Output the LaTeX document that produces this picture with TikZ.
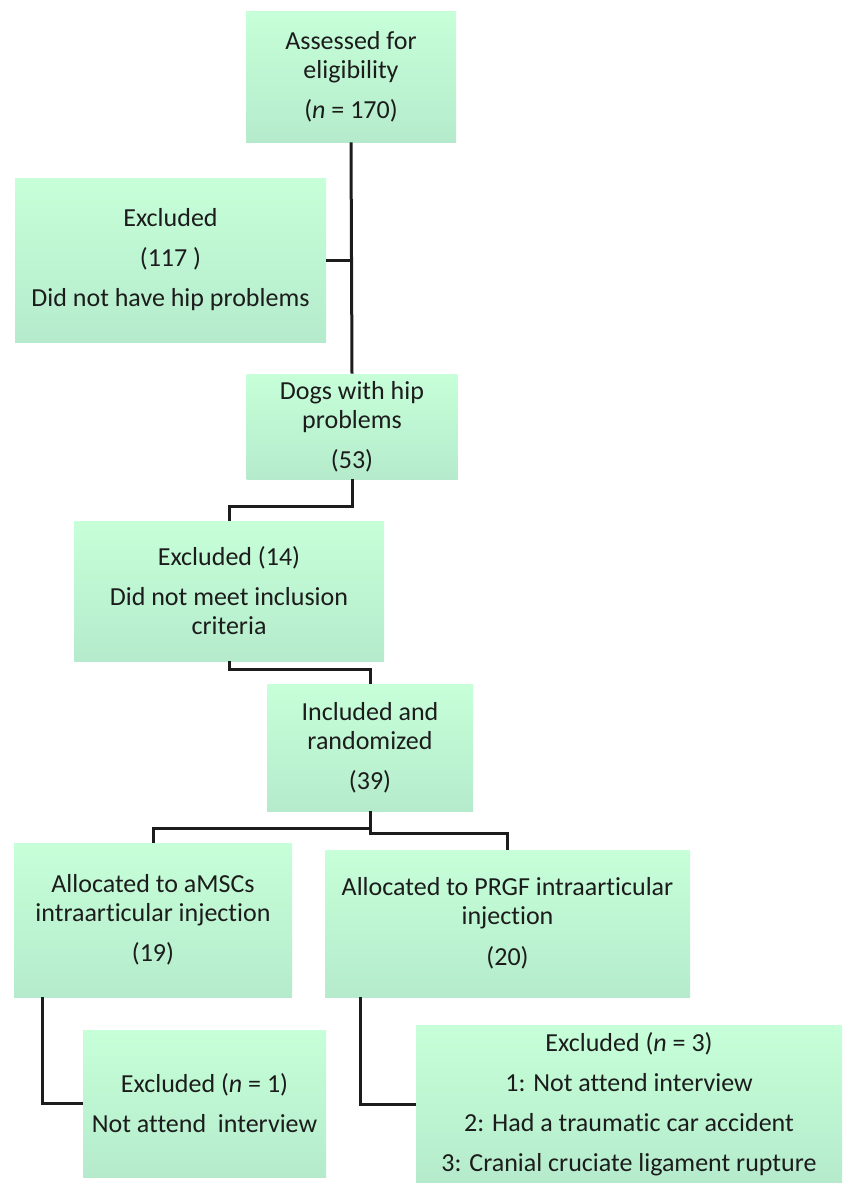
\documentclass[tikz,border=0pt]{standalone}
\usepackage{fontspec}
\setmainfont[Ligatures={NoCommon}]{Carlito}
\definecolor{boxtop}{RGB}{198,255,216}
\definecolor{boxbot}{RGB}{181,235,204}
\definecolor{ink}{RGB}{28,28,28}
\begin{document}
\begin{tikzpicture}[x=0.5pt, y=-0.5pt,
  stagebox/.style={rectangle, top color=boxtop, bottom color=boxbot, text=ink, align=center, inner sep=0pt, font=\fontsize{13}{14.5}\selectfont},
  link/.style={line width=1.5pt, draw=ink}]
\useasboundingbox (0,0) rectangle (843,1183);
% boxes
\node[stagebox, minimum width=105pt, minimum height=65.5pt] (assess) at (351,76.5) {Assessed for\\eligibility\\[5.5pt](\textit{n} = 170)};
\node[stagebox, minimum width=155.5pt, minimum height=82pt] (ex117) at (170.5,260) {Excluded\\[5.5pt](117 )\\[5.5pt]Did not have hip problems};
\node[stagebox, minimum width=105.5pt, minimum height=52.5pt] (dogs) at (352,426.5) {Dogs with hip\\problems\\[5.5pt](53)};
\node[stagebox, minimum width=155pt, minimum height=70pt] (ex14) at (229,591) {Excluded (14)\\[5.5pt]Did not meet inclusion\\criteria};
\node[stagebox, minimum width=103pt, minimum height=63.5pt] (incl) at (370,747.5) {Included and\\randomized\\[5.5pt](39)};
\node[stagebox, minimum width=139pt, minimum height=77pt] (amsc) at (153,920) {Allocated to aMSCs\\intraarticular injection\\[5.5pt](19)};
\node[stagebox, minimum width=182.5pt, minimum height=73.5pt] (prgf) at (507.5,923.5) {Allocated to PRGF intraarticular\\injection\\[6pt](20)};
\node[stagebox, minimum width=121.5pt, minimum height=73.5pt] (ex1) at (204.5,1103.5) {Excluded (\textit{n} = 1)\\[5.5pt]Not attend~ interview};
\node[stagebox, minimum width=213pt, minimum height=79pt] (ex3) at (629,1104) {Excluded (\textit{n} = 3)\\[5.5pt]1: Not attend interview\\[5.5pt]2: Had a traumatic car accident\\[5.5pt]3: Cranial cruciate ligament rupture};
% connectors
\draw[link] (assess.south) -- (dogs.north);
\draw[link] (ex117.east) -- (ex117.east -| assess.south);
\draw[link] (dogs.south) -- ++(0,27) -| (ex14.north);
\draw[link] (ex14.south) -- ++(0,8) -| (incl.north);
\draw[link] (incl.south) -- ++(0,17) -| (amsc.north);
\draw[link] (incl.south) -- ++(0,22) -| (prgf.north);
\draw[link] (amsc.south west) ++(29,0) |- (ex1.west);
\draw[link] (prgf.south west) ++(36,0) |- (ex3.west);
\end{tikzpicture}
\end{document}
